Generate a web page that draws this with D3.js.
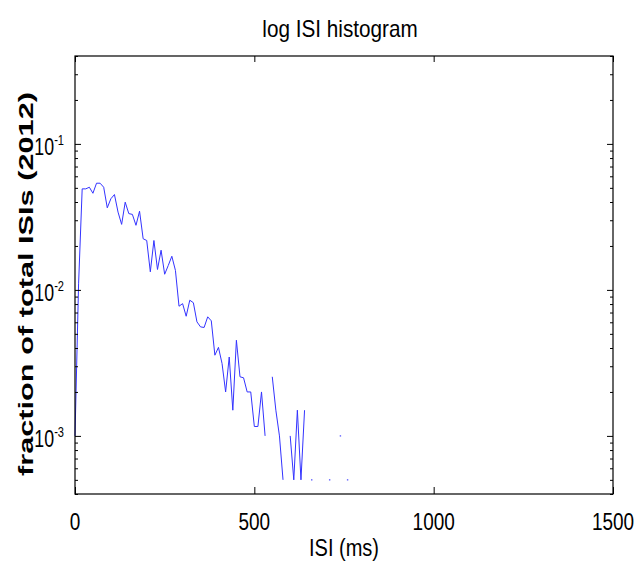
<!DOCTYPE html>
<html>
<head>
<meta charset="utf-8">
<script src="https://cdn.jsdelivr.net/npm/d3@7"></script>
<style>
  body { margin: 0; background: #fff; }
  text { font-family: "Liberation Sans", Arial, sans-serif; fill: #000; }
</style>
</head>
<body>
<svg id="chart" width="639" height="574"></svg>
<script>
// ISI bins (ms) and fraction of ISIs in each bin (null = empty bin)
const binMs = [0, 10, 20, 30, 40, 50, 60, 70, 80, 90,
  100, 110, 120, 130, 140, 150, 160, 170, 180, 190,
  200, 210, 220, 230, 240, 250, 260, 270, 280, 290,
  300, 310, 320, 330, 340, 350, 360, 370, 380, 390,
  400, 410, 420, 430, 440, 450, 460, 470, 480, 490,
  500, 510, 520, 530, 540, 550, 560, 570, 580, 590,
  600, 610, 620, 630, 640, 650, 660, 670, 680, 690,
  700, 710, 720, 730, 740, 750, 760];
const fraction = [0.001, 0.011, 0.0492, 0.0492, 0.0505, 0.0459, 0.0538, 0.0538, 0.0505, 0.0365,
  0.0421, 0.045, 0.0341, 0.0281, 0.0399, 0.0333, 0.0329, 0.0277, 0.0346, 0.0224,
  0.0218, 0.0133, 0.0218, 0.0138, 0.0187, 0.0128, 0.0147, 0.017, 0.0136, 0.00773,
  0.00805, 0.0066, 0.0085, 0.00817, 0.00604, 0.00558, 0.00553, 0.00654, 0.00614, 0.00357,
  0.00404, 0.00313, 0.002, 0.00347, 0.0015, 0.00452, 0.00254, 0.0025, 0.002, 0.002,
  0.00116, 0.00116, 0.002, 0.001, null, 0.00254, 0.0015, 0.001, 0.0005, null,
  0.001, 0.0005, 0.0015, 0.0005, 0.0015, null, 0.0005, null, null, null,
  null, 0.0005, null, null, 0.001, null, 0.0005];

const xTicks = [0, 500, 1000, 1500];
const yTicks = [1e-3, 1e-2, 1e-1];
const yTickExp = ["-3", "-2", "-1"];
const yMinorTicks = [4e-4, 5e-4, 6e-4, 7e-4, 8e-4, 9e-4,
  2e-3, 3e-3, 4e-3, 5e-3, 6e-3, 7e-3, 8e-3, 9e-3,
  2e-2, 3e-2, 4e-2, 5e-2, 6e-2, 7e-2, 8e-2, 9e-2,
  2e-1, 3e-1, 4e-1];

const titleText = "log ISI histogram";
const xLabel = "ISI (ms)";
const yLabel = "fraction of total ISIs (2012)";

const svg = d3.select("#chart");
const plot = { left: 75, right: 613, top: 56, bottom: 494 };

const x = d3.scaleLinear().domain([0, 1500]).range([plot.left, plot.right]);
const y = d3.scaleLog().domain([4e-4, 0.4]).range([plot.bottom, plot.top]);

const points = binMs.map((b, i) => ({ x: b, y: fraction[i] }));

// the line, broken where a bin is empty
const line = d3.line()
  .defined(d => d.y != null)
  .x(d => x(d.x))
  .y(d => y(d.y));

svg.append("path")
  .datum(points)
  .attr("d", line)
  .attr("fill", "none")
  .attr("stroke", "#3333ff")
  .attr("stroke-width", 1);

// single bins with empty neighbours show only as dots
const lonely = points.filter((d, i) => d.y != null &&
  (i === 0 || points[i - 1].y == null) &&
  (i === points.length - 1 || points[i + 1].y == null));
svg.selectAll(".dot")
  .data(lonely)
  .enter()
  .append("rect")
  .attr("x", d => x(d.x) - 0.7)
  .attr("y", d => y(d.y) - 0.7)
  .attr("width", 1.4)
  .attr("height", 1.4)
  .attr("fill", "#6060ff");

// axes, ticks pointing inwards (box on)
function addAxis(axis, tx, ty) {
  const g = svg.append("g")
    .attr("transform", `translate(${tx},${ty})`)
    .call(axis);
  g.select(".domain").remove();
  g.selectAll("line").attr("stroke", "#000");
  g.selectAll("text").remove();
}
addAxis(d3.axisBottom(x).tickValues(xTicks).tickSize(-7), 0, plot.bottom);
addAxis(d3.axisTop(x).tickValues(xTicks).tickSize(-6), 0, plot.top);
addAxis(d3.axisLeft(y).tickValues(yTicks).tickSize(-6), plot.left, 0);
addAxis(d3.axisRight(y).tickValues(yTicks).tickSize(-6), plot.right, 0);
addAxis(d3.axisLeft(y).tickValues(yMinorTicks).tickSize(-3), plot.left, 0);
addAxis(d3.axisRight(y).tickValues(yMinorTicks).tickSize(-3), plot.right, 0);

svg.append("rect")
  .attr("x", plot.left)
  .attr("y", plot.top)
  .attr("width", plot.right - plot.left)
  .attr("height", plot.bottom - plot.top)
  .attr("fill", "none")
  .attr("stroke", "#000")
  .attr("stroke-width", 1.2);

// narrow text helper
function narrow(px, py, str, size, sx, anchor) {
  return svg.append("text")
    .attr("transform", `translate(${px},${py}) scale(${sx},1)`)
    .attr("text-anchor", anchor || "middle")
    .style("font-size", size + "px")
    .text(str);
}

xTicks.forEach(t => narrow(x(t), 530, String(t), 24, 0.79));

yTicks.forEach((t, i) => {
  const txt = svg.append("text")
    .attr("transform", `translate(64,${y(t) + 11}) scale(0.74,1)`)
    .attr("text-anchor", "end")
    .style("font-size", "24px");
  txt.append("tspan").text("10");
  txt.append("tspan")
    .attr("dy", -10)
    .style("font-size", "15px")
    .text(yTickExp[i]);
});

narrow(340, 37, titleText, 23, 0.9);
narrow(344, 556, xLabel, 23, 0.87);

svg.append("text")
  .attr("transform", "translate(33,284) rotate(-90)")
  .attr("text-anchor", "middle")
  .attr("textLength", 384)
  .attr("lengthAdjust", "spacingAndGlyphs")
  .style("font-size", "21px")
  .style("font-weight", "bold")
  .text(yLabel);
</script>
</body>
</html>
